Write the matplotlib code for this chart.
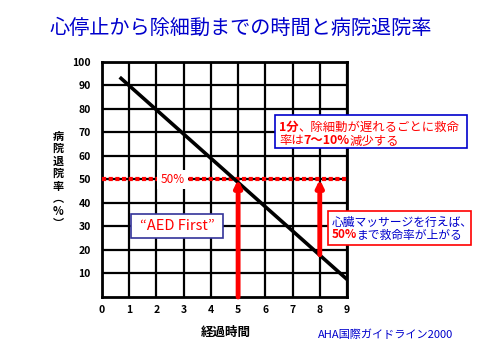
import matplotlib
matplotlib.use('Agg')
from matplotlib import pyplot as plt
from matplotlib.patches import Rectangle
from matplotlib.text import Annotation

plt.rcParams['font.family'] = ['Noto Sans CJK JP', 'DejaVu Sans']

# data
minutes = [0.7, 9]          # line end points (minutes to defibrillation)
survival = [93, 7.5]        # survival to discharge (%)
x_ticks = list(range(0, 10))
y_ticks = list(range(10, 101, 10))
ref_level = 50
arrow_x = [5, 8]
arrow_from = [0, 18]

title = '心停止から除細動までの時間と病院退院率'
blue = '#0000cc'
red = '#ff0000'

fig = plt.figure(figsize=(4.8, 3.6), dpi=100)
ax = fig.add_axes([0.2125, 0.175, 0.5104, 0.653])

ax.set_xlim(0, 9)
ax.set_ylim(0, 100)
ax.set_xticks(x_ticks)
ax.set_yticks(y_ticks)
ax.grid(True, color='black', lw=1.6)
ax.set_axisbelow(True)
for s in ax.spines.values():
    s.set_linewidth(2)
ax.tick_params(length=0, labelsize=7.5)
ax.tick_params(axis='y', pad=8)
ax.tick_params(axis='x', pad=6)
for lab in ax.get_xticklabels() + ax.get_yticklabels():
    lab.set_fontweight('bold')

# 50% reference line
ax.axhline(ref_level, color=red, lw=3, linestyle=(0, (1, 0.6)), zorder=3)
ax.text(2.6, ref_level, '50%', color=red, fontsize=8.5, ha='center', va='center',
        bbox=dict(facecolor='white', edgecolor='none', pad=2.5), zorder=4)

# survival line
ax.plot(minutes, survival, color='black', lw=2.6, zorder=5)

# red arrows
for xa, y0 in zip(arrow_x, arrow_from):
    ax.annotate('', xy=(xa, ref_level), xytext=(xa, y0),
                arrowprops=dict(arrowstyle='-|>', color=red, lw=3.5,
                                mutation_scale=10, shrinkA=0, shrinkB=0),
                zorder=6)

# title and labels
fig.text(0.502, 0.922, title, color=blue, fontsize=14.5, ha='center', va='center')
fig.text(0.121, 0.5, '病\n院\n退\n院\n率\n︵\n%\n︶', fontsize=8, fontweight='bold',
         ha='center', va='center', linespacing=0.95)
fig.text(0.471, 0.078, '経過時間', fontsize=9, fontweight='bold', ha='center', va='center')
fig.text(0.803, 0.069, 'AHA国際ガイドライン2000', color=blue, fontsize=8,
         ha='center', va='center')


def box(x0, y0, x1, y1, color):
    # pixel coordinates from the top left corner
    fig.patches.append(Rectangle((x0 / 480, 1 - y1 / 360), (x1 - x0) / 480,
                                 (y1 - y0) / 360, transform=fig.transFigure,
                                 facecolor='white', edgecolor=color, lw=1.2,
                                 zorder=7))


def chain(x, y, parts, size):
    # write text pieces one after another, each with its own colour and weight
    ann = fig.text(x / 480, 1 - y / 360, parts[0][0], color=parts[0][1],
                   fontweight=parts[0][2], fontsize=size, va='center', ha='left',
                   zorder=8)
    for s, c, w in parts[1:]:
        ann = fig.add_artist(Annotation(
            s, xy=(1, 0.5), xycoords=ann, xytext=(0, 0), textcoords='offset points',
            va='center', ha='left', color=c, fontweight=w, fontsize=size,
            zorder=8))
    return ann


box(275, 115, 467, 148, blue)
chain(279, 127, [('1分', red, 'bold'), ('、除細動が遅れるごとに救命', red, 'normal')], 8.9)
chain(279, 141, [('率は', red, 'normal'), ('7～10%', red, 'bold'), ('減少する', red, 'normal')], 8.9)

box(328, 211, 471, 245, red)
chain(332, 222, [('心臓マッサージを行えば、', blue, 'normal')], 8.5)
chain(332, 235, [('50%', red, 'bold'), ('まで救命率が上がる', blue, 'normal')], 8.5)

box(131, 214, 223, 238, '#333399')
fig.text(177 / 480, 1 - 226 / 360, '“AED First”', color=red, fontsize=10.5,
         ha='center', va='center', zorder=8)

plt.savefig('out.png', dpi=100)
